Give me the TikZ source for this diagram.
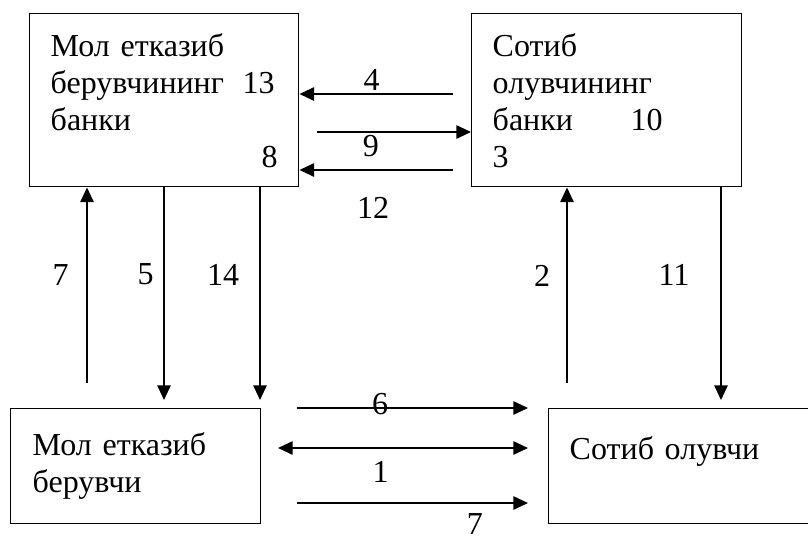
\documentclass[tikz,border=0pt]{standalone}
\usepackage{fontspec}
\setmainfont{Liberation Serif}
\newfontfamily\cyrserif{Liberation Serif}
\usetikzlibrary{calc, positioning, arrows.meta}
\tikzset{
    party/.style={rectangle, draw=black, line width=1.1pt, anchor=north west, inner sep=0pt, align=left, font=\cyrserif\fontsize{24pt}{27.75pt}\selectfont},
    arrow/.style={-{Triangle[length=11pt, width=10pt]}, line width=1.4pt},
    darrow/.style={{Triangle[length=11pt, width=10pt]}-{Triangle[length=11pt, width=10pt]}, line width=1.4pt},
    num/.style={font=\cyrserif\fontsize{24pt}{27.75pt}\selectfont, inner sep=0pt}
}

\begin{document}
\begin{tikzpicture}[x=0.75pt, y=-0.75pt]
        \useasboundingbox (0,0) rectangle (808,540);

        \node[party, minimum width=201.75pt, minimum height=129.75pt, text width=170.25pt] (SupBank) at (29,13) {Мол етказиб\\берувчининг\hspace{14pt}13\\банки\\\mbox{}\hfill 8\hspace{5pt}};
        \node[party, minimum width=202.5pt, minimum height=129.75pt, text width=171pt] (BuyBank) at (471,13) {Сотиб\\олувчининг\\\makebox[103.5pt][l]{банки}10\\3};
        \node[party, minimum width=187.5pt, minimum height=86.25pt, text width=154.5pt] (Supplier) at (10,408) {Мол етказиб\\берувчи};
        \node[party, minimum width=198pt, minimum height=86.25pt, text width=166.5pt] (Buyer) at (548,408) {Сотиб олувчи\\\mbox{}};

        % between the banks
        \coordinate (s4) at (453,94);
        \coordinate (s9) at (317,132);
        \coordinate (s12) at (453,170);
        \draw[arrow] (s4) -- node[num, pos=.53, above=2pt] {4} (s4 -| SupBank.east);
        \draw[arrow] (s9) -- node[num, pos=.35, below=2pt] {9} (s9 -| BuyBank.west);
        \draw[arrow] (s12) -- node[num, pos=.52, below=20pt] {12} (s12 -| SupBank.east);

        % up and down
        \coordinate (s7) at (87,383);
        \coordinate (e5) at (164,400);
        \coordinate (e14) at (260,400);
        \coordinate (s2) at (567,383);
        \coordinate (e11) at (721,400);
        \draw[arrow] (s7) -- node[num, pos=.55, left=13pt] {7} (s7 |- SupBank.south);
        \draw[arrow] (e5 |- SupBank.south) -- node[num, pos=.41, left=7pt] {5} (e5);
        \draw[arrow] (e14 |- SupBank.south) -- node[num, pos=.41, left=15pt] {14} (e14);
        \draw[arrow] (s2) -- node[num, pos=.55, left=12pt] {2} (s2 |- BuyBank.south);
        \draw[arrow] (e11 |- BuyBank.south) -- node[num, pos=.41, left=23pt] {11} (e11);

        % between supplier and buyer
        \coordinate (s6) at (297,408);
        \coordinate (s1) at (278,448);
        \coordinate (s7b) at (297,503);
        \draw[arrow] (s6) -- node[num, pos=.36, yshift=3pt] {6} ([xshift=-15pt]s6 -| Buyer.west);
        \draw[darrow] (s1) -- node[num, pos=.41, below=9pt] {1} ([xshift=-15pt]s1 -| Buyer.west);
        \draw[arrow] (s7b) -- node[num, pos=.77, below=7pt] {7} ([xshift=-15pt]s7b -| Buyer.west);
    \end{tikzpicture}
\end{document}
